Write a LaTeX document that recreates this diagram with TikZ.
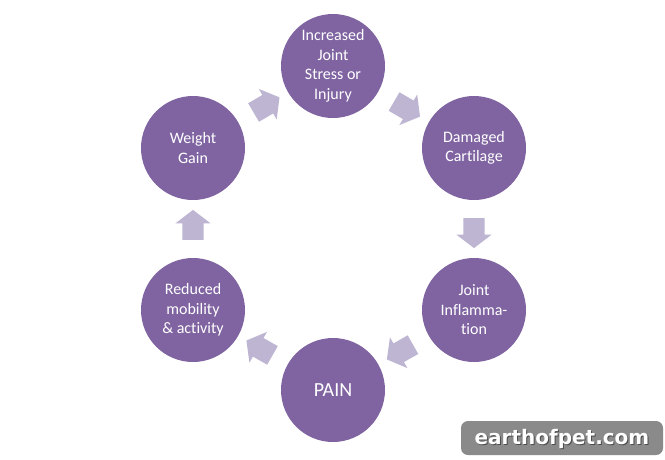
\documentclass[tikz,border=0pt]{standalone}
\usepackage{fontspec}
\setmainfont{Carlito}[Ligatures=NoCommon]
\newfontfamily\wmfont{DejaVu Sans}
\usetikzlibrary{shapes.arrows}
\definecolor{circ}{HTML}{8064A2}
\definecolor{arr}{HTML}{BEB5D3}
\definecolor{wmgray}{HTML}{8A8A8A}
\tikzset{
  stage/.style={circle, fill=circ, draw=none, minimum size=104pt, inner sep=0pt,
    text=white, align=center, font=\fontsize{16}{19.5}\selectfont},
  blockarrow/.style={single arrow, fill=arr, draw=none, minimum height=30pt,
    inner xsep=0pt, inner ysep=10.5pt, single arrow head extend=7pt,
    single arrow tip angle=105, sloped, allow upside down},
}
\begin{document}
\begin{tikzpicture}[x=1pt,y=-1pt]
\useasboundingbox (0,0) rectangle (665,459);
\fill[white] (0,0) rectangle (665,459);
\node[stage] (inj) at (333,66) {Increased\\Joint\\Stress or\\Injury};
\node[stage] (cart) at (474,148) {Damaged\\Cartilage};
\node[stage] (infl) at (474,310) {Joint\\Inflamma-\\tion};
\node[stage, font=\fontsize{20}{24}\selectfont] (pain) at (333,390) {PAIN};
\node[stage] (mob) at (193,310) {Reduced\\mobility\\\& activity};
\node[stage] (wt) at (193,148) {Weight\\Gain};
\path (inj) -- node[blockarrow] (a1) {} (cart);
\path (cart) -- node[blockarrow] (a2) {} (infl);
\path (infl) -- node[blockarrow] (a3) {} (pain);
\path (pain) -- node[blockarrow] (a4) {} (mob);
\path (mob) -- node[blockarrow] (a5) {} (wt);
\path (wt) -- node[blockarrow] (a6) {} (inj);
\fill[wmgray, rounded corners=7pt] (461,421) rectangle (663,455);
\node[text=black!70, font=\wmfont\bfseries\fontsize{20}{24}\selectfont] (wmshadow) at (563,439.5) {earthofpet.com};
\node[text=white, font=\wmfont\bfseries\fontsize{20}{24}\selectfont] (wm) at (562,438.5) {earthofpet.com};
\end{tikzpicture}
\end{document}
